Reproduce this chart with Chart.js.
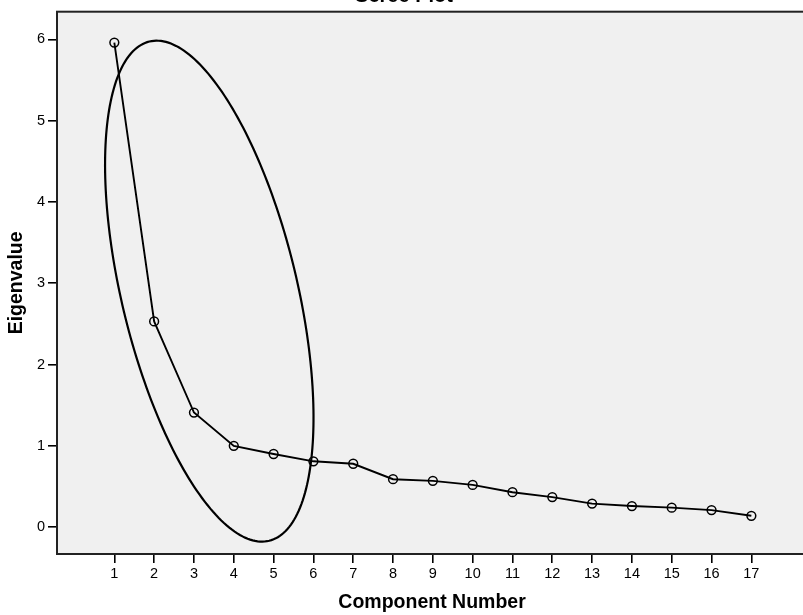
<!DOCTYPE html>
<html>
<head>
<meta charset="utf-8">
<script src="https://cdn.jsdelivr.net/npm/chart.js@4/dist/chart.umd.min.js"></script>
<style>
    html, body { margin: 0; padding: 0; background: #fff; }
    #wrap { width: 803px; height: 615px; overflow: hidden; }
    canvas { display: block; }
</style>
</head>
<body>
<div id="wrap"><canvas id="screeChart" width="813" height="615"></canvas></div>
<script>
const components = [1, 2, 3, 4, 5, 6, 7, 8, 9, 10, 11, 12, 13, 14, 15, 16, 17];
const eigenvalues = [5.96, 2.53, 1.41, 1.00, 0.90, 0.81, 0.78, 0.59, 0.57, 0.52, 0.43, 0.37, 0.29, 0.26, 0.24, 0.21, 0.14];
const yTickValues = [0, 1, 2, 3, 4, 5, 6];

// hand drawn ellipse, in data units: centre and two conjugate half axes
const ellipseCenter = [3.385, 2.903];
const ellipseAxisA = [-1.505, 3.070];
const ellipseAxisB = [2.142, 0.256];

const fontFamily = "'Liberation Sans', Arial, sans-serif";

const plotFrame = {
    id: "plotFrame",
    beforeDraw(chart) {
        const { ctx, chartArea: a } = chart;
        ctx.save();
        ctx.fillStyle = "#f0f0f0";
        ctx.fillRect(a.left, a.top, a.right - a.left, a.bottom - a.top);
        ctx.restore();
    },
    afterDatasetsDraw(chart) {
        const { ctx, chartArea: a, scales } = chart;
        ctx.save();
        ctx.beginPath();
        ctx.rect(a.left, a.top, a.right - a.left, a.bottom - a.top);
        ctx.clip();
        ctx.beginPath();
        for (let i = 0; i <= 240; i++) {
            const t = (i / 240) * Math.PI * 2;
            const vx = ellipseCenter[0] + ellipseAxisA[0] * Math.cos(t) + ellipseAxisB[0] * Math.sin(t);
            const vy = ellipseCenter[1] + ellipseAxisA[1] * Math.cos(t) + ellipseAxisB[1] * Math.sin(t);
            const px = scales.x.getPixelForValue(vx);
            const py = scales.y.getPixelForValue(vy);
            if (i === 0) ctx.moveTo(px, py);
            else ctx.lineTo(px, py);
        }
        ctx.closePath();
        ctx.lineWidth = 2.2;
        ctx.strokeStyle = "#000";
        ctx.stroke();
        ctx.restore();
    },
    afterDraw(chart) {
        const { ctx, chartArea: a } = chart;
        ctx.save();
        ctx.lineWidth = 2;
        ctx.strokeStyle = "#222";
        ctx.strokeRect(a.left, a.top, a.right - a.left, a.bottom - a.top);
        // title sits mostly above the top edge of the picture
        ctx.fillStyle = "#000";
        ctx.font = "bold 20px " + fontFamily;
        ctx.textAlign = "center";
        ctx.textBaseline = "alphabetic";
        ctx.fillText("Scree Plot", 404, 2);
        ctx.restore();
    },
};

const ctx = document.getElementById("screeChart").getContext("2d");
new Chart(ctx, {
    type: "scatter",
    data: {
        datasets: [
            {
                label: "Eigenvalue",
                data: components.map((c, i) => ({ x: c, y: eigenvalues[i] })),
                showLine: true,
                borderColor: "#000",
                borderWidth: 1.9,
                pointRadius: 4.4,
                pointBorderWidth: 1.5,
                pointBorderColor: "#000",
                pointBackgroundColor: "rgba(0,0,0,0)",
                tension: 0,
            },
        ],
    },
    options: {
        responsive: false,
        animation: false,
        layout: { padding: { top: 11, right: 0, left: 0, bottom: 0 } },
        plugins: {
            legend: { display: false },
            tooltip: { enabled: false },
        },
        scales: {
            x: {
                type: "linear",
                min: -0.44,
                max: 18.4,
                afterBuildTicks: (scale) => { scale.ticks = components.map((v) => ({ value: v })); },
                afterFit: (scale) => { scale.height = 61; },
                border: { display: false },
                grid: { drawOnChartArea: false, drawTicks: true, tickLength: 9, tickColor: "#000", tickWidth: 1.6, lineWidth: 1.6 },
                ticks: { color: "#000", padding: 2, font: { family: fontFamily, size: 14.5 }, maxRotation: 0 },
                title: {
                    display: true,
                    text: "Component Number",
                    color: "#000",
                    font: { family: fontFamily, size: 19.5, weight: "bold" },
                    padding: { top: 0, bottom: 1 },
                },
            },
            y: {
                type: "linear",
                min: -0.33,
                max: 6.34,
                afterBuildTicks: (scale) => { scale.ticks = yTickValues.map((v) => ({ value: v })); },
                afterFit: (scale) => { scale.width = 57; },
                border: { display: false },
                grid: { drawOnChartArea: false, drawTicks: true, tickLength: 9, tickColor: "#000", tickWidth: 1.6, lineWidth: 1.6 },
                ticks: { color: "#000", padding: 3, font: { family: fontFamily, size: 14.5 } },
                title: {
                    display: true,
                    text: "Eigenvalue",
                    color: "#000",
                    font: { family: fontFamily, size: 19.5, weight: "bold" },
                    padding: { top: 5, bottom: 0 },
                },
            },
        },
    },
    plugins: [plotFrame],
});
</script>
</body>
</html>
